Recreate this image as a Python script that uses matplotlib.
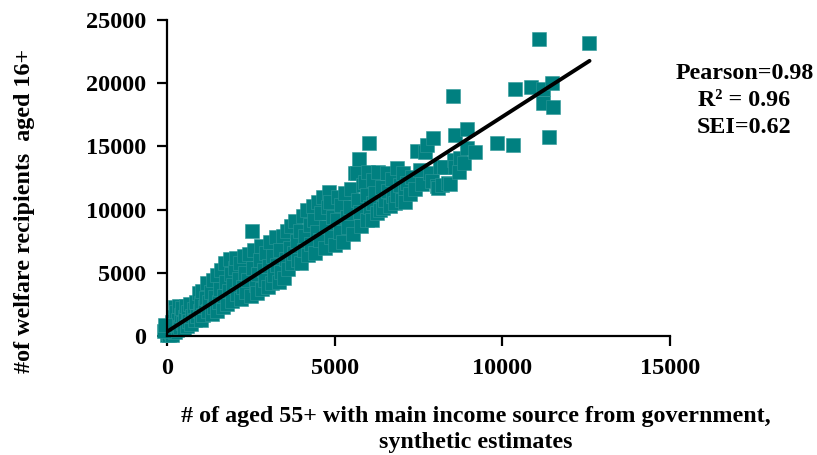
import numpy as np
import matplotlib.pyplot as plt

# synthetic estimates (x) vs welfare recipients (y)
x_vals = [0, 30, 50, 70, 90, 110, 140, 160, 180, 200, 230, 240, 260, 280, 300, 330, 350, 380, 410, 440, 470, 500,
          530, 560, 600, 630, 660, 700, 730, 760, 800, 830, 870, 900, 940, 970, 1000, 1000,
          1050, 1080, 1120, 1150, 1200, 1230, 1260, 1300, 1330, 1360, 1400, 1440, 1480, 1500,
          1550, 1580, 1620, 1660, 1700, 1740, 1770, 1800, 1840, 1880, 1900, 1950, 1980,
          2030, 2060, 2100, 2140, 2180, 2220, 2260, 2300, 2330, 2370, 2420, 2460, 2500, 2527,
          2560, 2600, 2640, 2680, 2720, 2760, 2800, 2840, 2880, 2920, 2960, 3000,
          3040, 3080, 3120, 3160, 3200, 3250, 3290, 3330, 3370, 3410, 3460, 3500,
          3540, 3580, 3620, 3660, 3700, 3740, 3780, 3830, 3870, 3910, 3960, 4000,
          4050, 4090, 4130, 4170, 4210, 4250, 4300, 4340, 4380, 4420, 4470, 4500,
          4550, 4600, 4650, 4700, 4750, 4790, 4840, 4862, 4900, 4950, 5000,
          5060, 5110, 5150, 5200, 5250, 5300, 5360, 5400, 5459, 5500, 5550,
          5600, 5658, 5706, 5736, 5757, 5800, 5856, 5900, 5957, 5957, 5990, 6035,
          6060, 6100, 6154, 6154, 6200, 6250, 6303, 6350, 6400, 6452, 6503, 6553,
          6600, 6650, 6700, 6750, 6800, 6852, 6852, 6950, 7000,
          7051, 7100, 7100, 7150, 7250, 7300, 7400, 7448, 7547, 7600, 7696, 7747, 7845, 7900, 7944,
          8050, 8094, 8143, 8194, 8250, 8392, 8440, 8540, 8560, 8591, 8591, 8700, 8740, 8850, 8940, 8958,
          9188, 9834, 10311, 10390, 10865, 11100, 11225, 11225, 11400, 11470, 11520, 12595,
          -100, -60]
y_vals = [50, 250, 500, 120, 800, 350, 1100, 60, 600, 1500, 300, 2300, 900, 1900, 500, 1300, 2400, 750, 1700, 2200, 1000, 550,
          1500, 2400, 800, 1900, 1200, 2500, 950, 1600, 2100, 1250, 2700, 1550, 3400, 2000, 1300, 2600,
          3600, 1700, 2300, 3000, 4200, 2000, 2700, 3500, 1750, 4400, 2300, 3100, 4800, 2000,
          2700, 3700, 5200, 2300, 3200, 5800, 4300, 2500, 3600, 6100, 4900, 2800, 4000,
          5400, 6200, 3300, 4500, 5800, 2950, 3900, 6300, 5000, 3500, 4400, 6500, 3200, 8330,
          5400, 6800, 4000, 3400, 4900, 6000, 7100, 3700, 5200, 4400, 6600, 3900,
          5500, 7400, 4200, 6300, 4800, 7800, 5600, 4300, 6800, 5100, 7900, 4600,
          6100, 8300, 5300, 7000, 8700, 5800, 6600, 9100, 7500, 6000, 8300, 5800,
          9500, 6800, 7900, 10000, 6400, 8800, 7300, 10300, 9200, 6600, 8200, 10600,
          7600, 9700, 11000, 7000, 8600, 10200, 11400, 10625, 7800, 9400, 7200,
          9200, 11000, 8200, 10400, 7400, 11300, 9400, 8600, 10230, 11600, 8100,
          12870, 12870, 10760, 13980, 9830, 8700, 11940, 12200, 11150, 9180, 13000, 15240,
          10200, 9200, 10500, 12340, 11300, 9700, 13000, 9970, 11800, 10100, 10760, 12870,
          11500, 10300, 12400, 11100, 10500, 13260, 11150, 11940, 10760,
          12870, 11680, 10625, 12100, 11200, 12600, 11600, 14660, 13130, 12000, 14580, 15110, 12870, 12300, 15640,
          11870, 11680, 13390, 11940, 13400, 12080, 12020, 19010, 13900, 13390, 15900, 13000, 14060, 13700, 14850, 16350,
          14580, 15290, 15110, 19510, 19670, 23470, 19510, 18410, 15720, 19990, 18090, 23150,
          400, 900]

# regression line end points
trend_x = [0, 12600]
trend_y = [340, 21770]

stats_lines = ["Pearson=0.98", "R\u00b2 = 0.96", "SEI=0.62"]

plt.rcParams['font.family'] = ['Liberation Serif', 'DejaVu Serif']
plt.rcParams['font.weight'] = 'bold'

fig = plt.figure(figsize=(8.17, 4.55), dpi=100)
ax = fig.add_axes([0.2044, 0.2615, 0.6157, 0.6945])

ax.scatter(x_vals, y_vals, marker='s', s=95, color='#008080', edgecolors='#2f9898',
           linewidths=0.4, zorder=2, clip_on=False)
ax.plot(trend_x, trend_y, color='black', linewidth=2.8, zorder=3, solid_capstyle='round')

ax.set_xlim(0, 15000)
ax.set_ylim(0, 25000)
ax.set_xticks([0, 5000, 10000, 15000])
ax.set_yticks([0, 5000, 10000, 15000, 20000, 25000])
ax.spines['top'].set_visible(False)
ax.spines['right'].set_visible(False)
for s in ['left', 'bottom']:
    ax.spines[s].set_linewidth(1.6)
ax.tick_params(direction='out', length=7, width=1.6, labelsize=17.5)
ax.tick_params(axis='x', pad=9)
ax.tick_params(axis='y', pad=8)
for lbl in ax.get_xticklabels() + ax.get_yticklabels():
    lbl.set_fontweight('bold')

ax.set_xlabel("# of aged 55+ with main income source from government,\nsynthetic estimates",
              fontsize=17.3, fontweight='bold', linespacing=1.3, va='center')
ax.xaxis.set_label_coords(0.614, -0.296)
ax.set_ylabel("#of welfare recipients  aged 16+", fontsize=17.3, fontweight='bold', va='center')
ax.yaxis.set_label_coords(-0.284, 0.396)

for i, t in enumerate(stats_lines):
    fig.text(0.911, 0.838 - i * 0.059, t, ha='center', va='center', fontsize=17.3, fontweight='bold')

fig.savefig('out.png', dpi=100)
